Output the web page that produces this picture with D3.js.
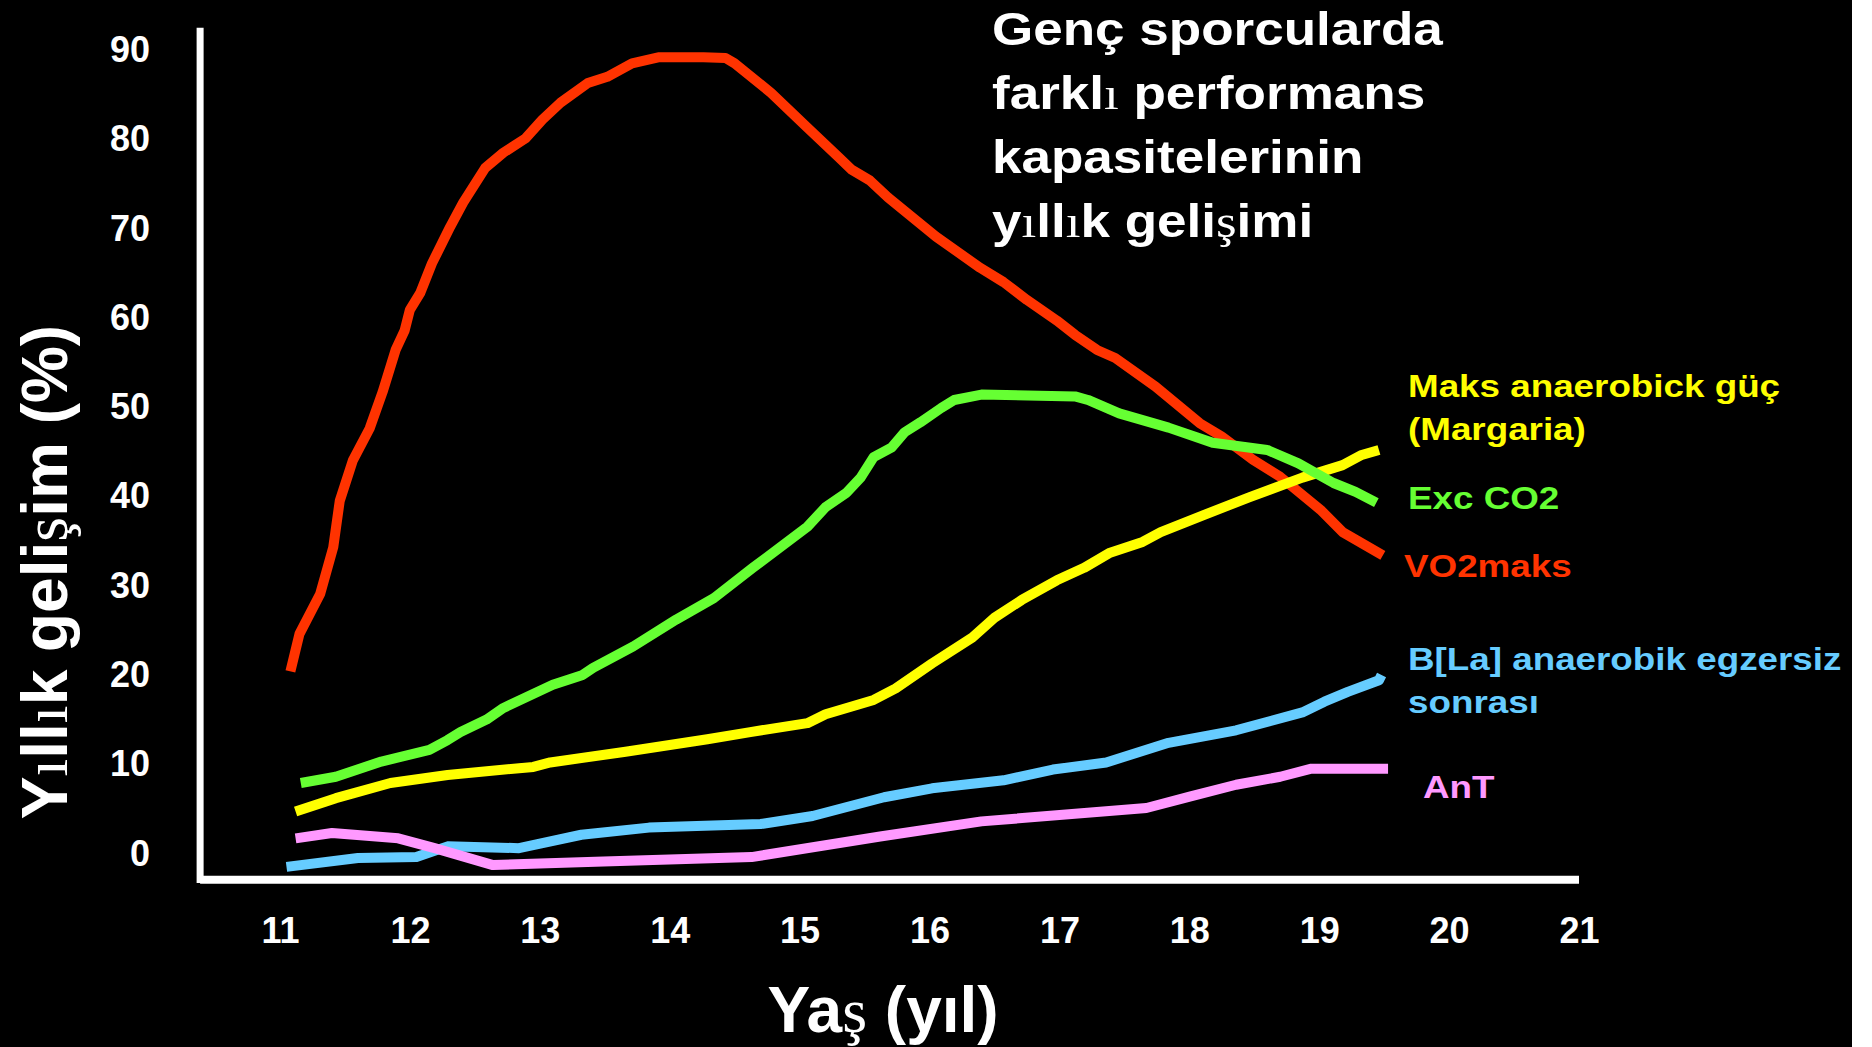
<!DOCTYPE html>
<html>
<head>
<meta charset="utf-8">
<script src="https://cdn.jsdelivr.net/npm/d3@7"></script>
<style>
  html, body { margin: 0; padding: 0; background: #000; overflow: hidden; }
  text { font-family: "Liberation Sans", Arial, sans-serif; font-weight: bold; }
</style>
</head>
<body>
<svg id="chart"></svg>
<script>
// ---- data: [age (yil), yillik gelisim (%)] ----
const vo2maks = [
  [11.08,20.4],[11.15,24.6],[11.31,29.1],[11.41,34.3],[11.46,39.5],[11.56,44.0],[11.69,47.6],
  [11.79,51.7],[11.89,56.4],[11.96,58.6],[12.0,60.9],[12.08,62.8],[12.17,66.1],[12.31,70.2],
  [12.41,72.9],[12.58,76.8],[12.72,78.5],[12.89,80.1],[13.02,82.2],[13.16,84.1],[13.37,86.3],
  [13.52,87.0],[13.71,88.5],[13.92,89.2],[14.26,89.2],[14.43,89.1],[14.50,88.5],[14.78,85.2],
  [15.06,81.3],[15.30,78.0],[15.40,76.6],[15.54,75.4],[15.68,73.5],[16.05,69.1],[16.39,65.6],
  [16.57,64.0],[16.75,62.0],[16.98,59.7],[17.12,58.1],[17.29,56.4],[17.43,55.5],[17.74,52.3],
  [18.08,48.2],[18.25,46.7],[18.49,44.1],[18.70,42.2],[19.01,38.5],[19.18,36.0],[19.49,33.4]
];
const excCO2 = [
  [11.16,7.9],[11.43,8.6],[11.78,10.3],[12.15,11.6],[12.29,12.7],[12.39,13.6],[12.59,15.0],
  [12.72,16.3],[13.10,18.9],[13.33,20.0],[13.41,20.8],[13.72,23.2],[14.05,26.2],[14.34,28.6],
  [14.64,32.0],[15.06,36.6],[15.20,38.8],[15.36,40.4],[15.47,42.1],[15.57,44.4],[15.71,45.5],
  [15.81,47.2],[15.93,48.3],[16.09,49.9],[16.19,50.8],[16.40,51.4],[17.12,51.2],[17.22,50.8],
  [17.46,49.3],[17.84,47.7],[18.18,46.0],[18.60,45.2],[18.84,43.7],[19.11,41.5],[19.28,40.5],
  [19.44,39.3]
];
const maksGuc = [
  [11.12,4.7],[11.43,6.2],[11.85,7.9],[12.29,8.8],[12.95,9.7],[13.08,10.2],[13.66,11.4],
  [14.29,12.8],[14.62,13.6],[15.06,14.6],[15.20,15.6],[15.57,17.2],[15.74,18.5],[16.02,21.3],
  [16.33,24.2],[16.50,26.4],[16.71,28.4],[16.98,30.6],[17.19,32.0],[17.39,33.7],[17.64,34.9],
  [17.78,36.0],[18.11,37.9],[18.46,39.9],[18.87,42.1],[19.18,43.5],[19.32,44.6],[19.46,45.2]
];
const bLa = [
  [11.05,-1.5],[11.60,-0.5],[12.05,-0.4],[12.29,0.8],[12.84,0.6],[13.32,2.1],[13.84,2.9],
  [14.70,3.3],[15.10,4.2],[15.65,6.3],[16.02,7.3],[16.57,8.2],[16.95,9.4],[17.36,10.2],
  [17.84,12.4],[18.36,13.8],[18.87,15.8],[19.04,17.0],[19.22,18.1],[19.46,19.4],[19.48,20.0]
];
const anT = [
  [11.12,1.7],[11.40,2.3],[11.91,1.7],[12.19,0.6],[12.64,-1.3],[13.49,-0.9],[14.63,-0.4],
  [15.62,1.9],[16.40,3.6],[17.67,5.1],[18.01,6.4],[18.36,7.7],[18.70,8.6],[18.94,9.5],[19.53,9.5]
];

const xTicks = [11, 12, 13, 14, 15, 16, 17, 18, 19, 20, 21];
const yTicks = [0, 10, 20, 30, 40, 50, 60, 70, 80, 90];

const titleLines = ["Genç sporcularda", "farklı performans", "kapasitelerinin", "yıllık gelişimi"];
const xTitle = "Yaş (yıl)";
const yTitle = "Yıllık gelişim (%)";

// draw order: bottom to top
const series = [
  { name: "B[La]", data: bLa, color: "#66CCFF" },
  { name: "AnT", data: anT, color: "#FF99FF" },
  { name: "VO2maks", data: vo2maks, color: "#FF3300" },
  { name: "Maks", data: maksGuc, color: "#FFFF00" },
  { name: "Exc CO2", data: excCO2, color: "#66FF33" }
];

// labels at the right of the lines
const labels = [
  { lines: ["Maks anaerobick güç", "(Margaria)"], color: "#FFFF00", x: 1408, y: 397 },
  { lines: ["Exc CO2"], color: "#66FF33", x: 1408, y: 509 },
  { lines: ["VO2maks"], color: "#FF3300", x: 1404, y: 577 },
  { lines: ["B[La] anaerobik egzersiz", "sonrası"], color: "#66CCFF", x: 1408, y: 670 },
  { lines: ["AnT"], color: "#FF99FF", x: 1423, y: 798 }
];

const width = 1872, height = 1047;

const svg = d3.select("#chart")
  .attr("width", width)
  .attr("height", height);

svg.append("rect").attr("width", width).attr("height", height).attr("fill", "#000");
svg.append("rect").attr("x", 1852).attr("width", width - 1852).attr("height", height).attr("fill", "#fff");

const x = d3.scaleLinear().domain([11, 21]).range([280, 1579]);
const y = d3.scaleLinear().domain([0, 90]).range([853.5, 50]);

// text with the dotless i / s-cedilla falling back to a serif face, like the original
function serifFallback(sel, str, chars) {
  let buf = "";
  const flush = (serif) => {
    if (!buf) return;
    const t = sel.append("tspan").text(buf);
    if (serif) t.style("font-family", '"Liberation Serif", "Times New Roman", serif').style("font-weight", "normal");
    buf = "";
  };
  let cur = false;
  for (const ch of str) {
    const s = chars.includes(ch);
    if (s !== cur) { flush(cur); cur = s; }
    buf += ch;
  }
  flush(cur);
}

// axis lines
svg.append("line")
  .attr("x1", x(10.385)).attr("x2", x(10.385))
  .attr("y1", y(92.5)).attr("y2", y(-3.3))
  .attr("stroke", "#fff").attr("stroke-width", 7);
svg.append("line")
  .attr("x1", x(10.385)).attr("x2", x(21))
  .attr("y1", y(-2.95)).attr("y2", y(-2.95))
  .attr("stroke", "#fff").attr("stroke-width", 8);

// tick labels
const yAxis = svg.append("g")
  .attr("transform", "translate(150,0)")
  .call(d3.axisLeft(y).tickValues(yTicks).tickSize(0).tickPadding(0));
const xAxis = svg.append("g")
  .attr("transform", "translate(0,917)")
  .call(d3.axisBottom(x).tickValues(xTicks).tickSize(0).tickPadding(0));
[yAxis, xAxis].forEach(g => {
  g.select(".domain").remove();
  g.selectAll("text")
    .attr("fill", "#fff")
    .style("font-family", '"Liberation Sans", Arial, sans-serif')
    .style("font-weight", "bold")
    .style("font-size", "36px");
});

// lines
const line = d3.line()
  .x(d => x(d[0]))
  .y(d => y(d[1]));

svg.append("g")
  .selectAll("path")
  .data(series)
  .enter()
  .append("path")
  .attr("d", d => line(d.data))
  .attr("fill", "none")
  .attr("stroke", d => d.color)
  .attr("stroke-width", 10)
  .attr("stroke-linejoin", "round")
  .attr("stroke-linecap", "butt");

// series labels
labels.forEach(l => {
  const t = svg.append("text")
    .attr("transform", "translate(" + l.x + "," + l.y + ") scale(1.15,1)")
    .attr("fill", l.color)
    .style("font-size", "32px");
  l.lines.forEach((s, i) => {
    t.append("tspan").attr("x", 0).attr("y", i * 43).text(s);
  });
});

// title
titleLines.forEach((s, i) => {
  const t = svg.append("text")
    .attr("transform", "translate(992," + (45 + i * 64) + ") scale(1.153,1)")
    .attr("fill", "#fff")
    .style("font-size", "46px");
  serifFallback(t, s, "ış");
});

// axis titles
const xt = svg.append("text")
  .attr("transform", "translate(883,1032)")
  .attr("text-anchor", "middle")
  .attr("fill", "#fff")
  .style("font-size", "64px");
serifFallback(xt, xTitle, "ş");

const yt = svg.append("text")
  .attr("transform", "translate(67,572) rotate(-90)")
  .attr("text-anchor", "middle")
  .attr("fill", "#fff")
  .style("font-size", "64px");
serifFallback(yt, yTitle, "ış");
</script>
</body>
</html>
